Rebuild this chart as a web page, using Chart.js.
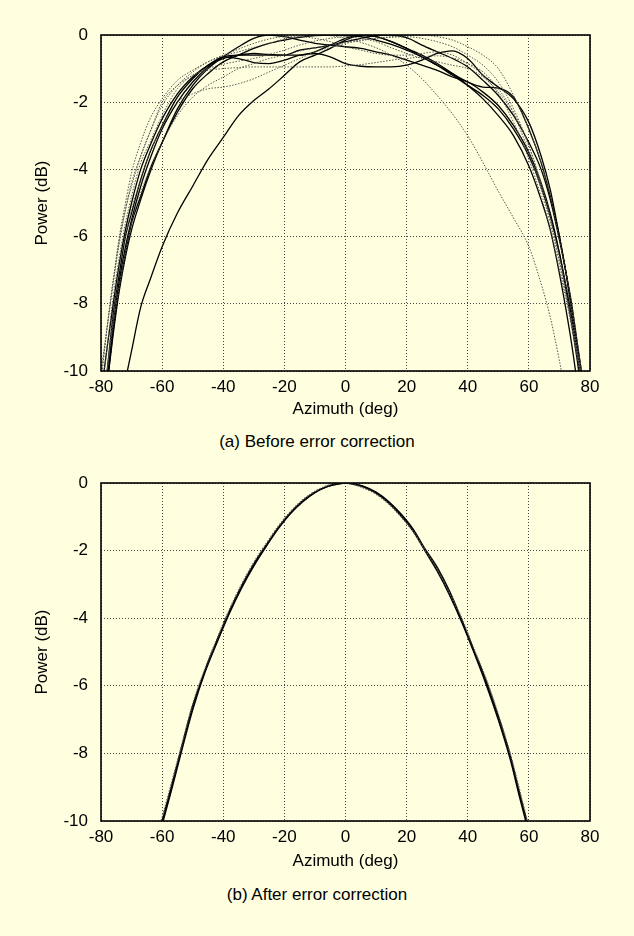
<!DOCTYPE html>
<html>
<head>
<meta charset="utf-8">
<script src="https://cdn.jsdelivr.net/npm/chart.js@4.4.1/dist/chart.umd.min.js"></script>
<style>
  html, body { margin:0; padding:0; background:#ffffe0; }
  body { width:634px; height:936px; position:relative; overflow:hidden; font-family:"Liberation Sans", Arial, sans-serif; }
  .box { position:absolute; left:0; width:634px; }
  .cap { position:absolute; left:0; width:634px; text-align:center; font-size:17px; line-height:20px; color:#000; }
</style>
</head>
<body>
<div class="box" style="top:0;height:420px"><canvas id="chartA"></canvas></div>
<div class="cap" style="top:432px">(a) Before error correction</div>
<div class="box" style="top:450px;height:422px"><canvas id="chartB"></canvas></div>
<div class="cap" style="top:885px">(b) After error correction</div>
<script>
// ---- data ----
const xTicks = [-80,-60,-40,-20,0,20,40,60,80];
const yTicks = [0,-2,-4,-6,-8,-10];

const azimuthA = [-80,-78,-76,-74,-72,-70,-67,-64,-60,-55,-50,-45,-40,-35,-30,-25,-20,-15,-10,-5,0,5,10,15,20,25,30,35,40,45,50,55,60,64,67,70,72,74,76,78,80];

// solid curves (before correction)
const solid1 = [-15,-14,-12.8,-11.5,-10.3,-9.4,-8.1,-7.3,-6.3,-5.3,-4.5,-3.7,-3.05,-2.4,-1.95,-1.6,-1.2,-0.8,-0.6,-0.4,-0.15,-0.02,-0.05,-0.2,-0.4,-0.6,-0.85,-1.15,-1.5,-1.9,-2.4,-3.0,-3.9,-4.9,-5.8,-7.1,-8.1,-9.2,-10.5,-12,-13.5];
const solid2 = [-12,-10.4,-8.8,-7.5,-6.5,-5.6,-4.8,-4.0,-3.2,-2.2,-1.5,-1.0,-0.65,-0.35,-0.1,0,-0.05,-0.15,-0.25,-0.3,-0.35,-0.4,-0.5,-0.6,-0.75,-0.9,-1.05,-1.25,-1.4,-1.7,-2.1,-2.7,-3.5,-4.4,-5.3,-6.5,-7.5,-8.6,-9.8,-11.2,-12.5];
const solid3 = [-11.5,-10,-8.3,-7.1,-6.0,-5.3,-4.3,-3.5,-2.7,-1.85,-1.3,-0.9,-0.65,-0.6,-0.6,-0.6,-0.6,-0.6,-0.5,-0.3,-0.1,0,-0.05,-0.2,-0.4,-0.65,-0.9,-1.2,-1.5,-1.8,-2.2,-2.8,-3.6,-4.5,-5.4,-6.5,-7.4,-8.4,-9.6,-11,-12.5];
const solid4 = [-11.8,-10.3,-8.6,-7.3,-6.3,-5.5,-4.5,-3.7,-2.8,-2.0,-1.4,-0.95,-0.65,-0.7,-0.82,-0.85,-0.75,-0.6,-0.55,-0.65,-0.85,-0.93,-0.95,-0.95,-0.9,-0.75,-0.55,-0.47,-0.7,-1.2,-1.55,-1.9,-2.6,-3.6,-4.6,-6.0,-7.0,-8.0,-9.3,-10.6,-12];
const solid5 = [-12,-10.4,-8.9,-7.6,-6.6,-5.8,-4.9,-4.1,-3.2,-2.3,-1.6,-1.15,-0.8,-0.6,-0.4,-0.25,-0.15,-0.07,-0.02,0,-0.02,-0.05,-0.15,-0.28,-0.45,-0.65,-0.9,-1.15,-1.4,-1.55,-1.58,-1.85,-2.8,-3.8,-4.8,-6.0,-7.0,-8.2,-9.5,-11,-12.5];
const solid6 = [-10.7,-9.3,-8.0,-6.8,-5.8,-5.0,-4.0,-3.3,-2.5,-1.75,-1.25,-0.9,-0.7,-0.6,-0.55,-0.58,-0.6,-0.45,-0.38,-0.3,-0.2,-0.1,-0.02,0,-0.08,-0.3,-0.5,-0.7,-0.95,-1.35,-1.8,-2.4,-3.2,-4.0,-4.9,-6.1,-7.0,-8.1,-9.3,-10.5,-12];

// dotted curves (before correction)
const dotted1 = [-10.3,-8.7,-7.3,-6.0,-5.0,-4.1,-3.2,-2.5,-1.9,-1.35,-1.05,-0.8,-0.62,-0.5,-0.37,-0.25,-0.12,-0.05,0,-0.02,-0.1,-0.22,-0.38,-0.6,-0.9,-1.3,-1.8,-2.35,-3.0,-3.8,-4.65,-5.45,-6.3,-7.4,-8.4,-9.7,-10.7,-11.7,-12.7,-13.7,-14.7];
const dotted2 = [-11.5,-10,-8.3,-6.9,-6,-5.2,-4.3,-3.5,-2.7,-2.0,-1.75,-1.6,-1.55,-1.45,-1.3,-1.1,-0.9,-0.7,-0.5,-0.37,-0.25,-0.17,-0.1,-0.07,-0.05,-0.1,-0.2,-0.35,-0.6,-0.9,-1.4,-2.2,-3.3,-4.5,-5.5,-6.6,-7.4,-8.2,-9.5,-10.7,-12];
const dotted3 = [-10,-8.7,-7.4,-6.1,-5.2,-4.4,-3.6,-2.9,-2.0,-1.5,-1.2,-1.05,-1.0,-0.97,-0.95,-0.95,-0.95,-0.95,-0.95,-0.95,-0.92,-0.88,-0.82,-0.75,-0.7,-0.65,-0.62,-0.68,-0.85,-1.1,-1.6,-2.3,-3.3,-4.4,-5.4,-6.7,-7.6,-8.5,-9.5,-10.5,-11.5];
const dotted4 = [-12,-10,-8.6,-7.5,-6.5,-5.6,-4.7,-4.0,-3.2,-2.4,-1.85,-1.5,-1.25,-1.0,-0.85,-0.7,-0.6,-0.48,-0.38,-0.3,-0.22,-0.15,-0.1,-0.05,-0.02,0,-0.05,-0.15,-0.35,-0.6,-1.0,-1.8,-2.8,-3.8,-4.8,-6.1,-7.0,-8.0,-9.2,-10.5,-12];
const dotted5 = [-10.8,-9.3,-7.8,-6.6,-5.6,-4.8,-3.8,-3.2,-2.4,-1.6,-1.2,-1.0,-0.87,-0.78,-0.7,-0.58,-0.45,-0.3,-0.18,-0.1,-0.05,-0.1,-0.2,-0.38,-0.55,-0.7,-0.8,-0.9,-1.0,-1.25,-1.7,-2.35,-3.5,-4.6,-5.6,-6.8,-7.7,-8.6,-9.6,-10.5,-11.5];
const dotted6 = [-10.3,-8.7,-7.3,-6.2,-5.2,-4.5,-3.6,-2.9,-2.1,-1.5,-1.1,-0.8,-0.6,-0.42,-0.25,-0.12,-0.05,-0.05,-0.1,-0.2,-0.35,-0.45,-0.55,-0.6,-0.6,-0.55,-0.5,-0.6,-0.85,-1.2,-1.75,-2.6,-3.7,-4.8,-5.8,-7.0,-7.8,-8.7,-9.7,-10.8,-12];

// after correction
const azimuthB = [-62,-60,-57,-54,-50,-46,-42,-38,-34,-30,-26,-22,-18,-14,-10,-6,-2,0,2,6,10,14,18,22,26,30,34,38,42,46,50,54,57,60,62];
const after1 = [-10.6,-10.0,-9.0,-7.95,-6.6,-5.55,-4.65,-3.8,-3.05,-2.4,-1.85,-1.32,-0.88,-0.53,-0.27,-0.1,-0.01,0,-0.01,-0.1,-0.27,-0.54,-0.9,-1.35,-1.95,-2.5,-3.2,-4.05,-4.95,-5.85,-6.9,-8.1,-9.2,-10.25,-11];
const after2 = [-10.8,-10.1,-9.1,-8.05,-6.7,-5.6,-4.7,-3.85,-3.1,-2.45,-1.88,-1.35,-0.9,-0.55,-0.28,-0.1,-0.02,0,-0.02,-0.12,-0.3,-0.58,-0.95,-1.4,-2.0,-2.6,-3.3,-4.1,-5.0,-5.95,-7.0,-8.2,-9.3,-10.35,-11.1];
const after3 = [-10.5,-9.9,-8.9,-7.9,-6.55,-5.5,-4.6,-3.75,-3.0,-2.35,-1.8,-1.28,-0.85,-0.5,-0.25,-0.08,0,0,-0.03,-0.15,-0.33,-0.6,-0.98,-1.42,-1.98,-2.55,-3.25,-4.0,-4.9,-5.8,-6.85,-8.05,-9.1,-10.2,-10.9];

// ---- helpers ----
const FONT = "'Liberation Sans', Arial, sans-serif";
const pts = (xs, ys)=> xs.map((x,i)=>({x, y: ys[i]}));

function solidSet(xs, ys){
  return { data: pts(xs, ys), borderColor:'#000', borderWidth:1.3, pointRadius:0, cubicInterpolationMode:'monotone', fill:false };
}
function dottedSet(xs, ys){
  return { data: pts(xs, ys), borderColor:'#555', borderWidth:1, borderDash:[1.5,1.5], pointRadius:0, cubicInterpolationMode:'monotone', fill:false };
}

const frame = {
  id:'frame',
  afterDraw(chart){
    const {ctx, chartArea:a} = chart;
    ctx.save();
    ctx.strokeStyle = '#000';
    ctx.lineWidth = 1.6;
    ctx.setLineDash([]);
    ctx.strokeRect(a.left, a.top, a.right - a.left, a.bottom - a.top);
    ctx.restore();
  }
};

function makeOptions(padTop, xAxisH){
  return {
    responsive:true, maintainAspectRatio:false, animation:false,
    layout:{ padding:{ left:0, right:44, top:padTop, bottom:0 } },
    plugins:{ legend:{display:false}, tooltip:{enabled:false} },
    scales:{
      x:{
        type:'linear', min:-80, max:80,
        afterBuildTicks: s=>{ s.ticks = xTicks.map(v=>({value:v})); },
        afterFit: s=>{ s.height = xAxisH; },
        grid:{ color:'#444', lineWidth:1, drawTicks:false },
        border:{ display:false, dash:[1,2] },
        ticks:{ color:'#000', padding:6, font:{ family:FONT, size:17 }, maxRotation:0 },
        title:{ display:true, text:'Azimuth (deg)', color:'#000', padding:{top:0,bottom:0}, font:{ family:FONT, size:17, lineHeight:1.2 } }
      },
      y:{
        type:'linear', min:-10, max:0,
        afterBuildTicks: s=>{ s.ticks = yTicks.map(v=>({value:v})); },
        afterFit: s=>{ s.width = 101; },
        grid:{ color:'#444', lineWidth:1, drawTicks:false },
        border:{ display:false, dash:[1,2] },
        ticks:{ color:'#000', padding:13, font:{ family:FONT, size:17 } },
        title:{ display:true, text:'Power (dB)', color:'#000', padding:{top:32,bottom:0}, font:{ family:FONT, size:17, lineHeight:1.2 } }
      }
    }
  };
}

new Chart(document.getElementById('chartA'), {
  type:'line',
  data:{ datasets:[
    dottedSet(azimuthA, dotted1), dottedSet(azimuthA, dotted2), dottedSet(azimuthA, dotted3),
    dottedSet(azimuthA, dotted4), dottedSet(azimuthA, dotted5), dottedSet(azimuthA, dotted6),
    solidSet(azimuthA, solid1), solidSet(azimuthA, solid2), solidSet(azimuthA, solid3),
    solidSet(azimuthA, solid4), solidSet(azimuthA, solid5), solidSet(azimuthA, solid6)
  ]},
  options: makeOptions(35, 49),
  plugins:[frame]
});

new Chart(document.getElementById('chartB'), {
  type:'line',
  data:{ datasets:[
    Object.assign(dottedSet(azimuthB, after3), {borderWidth:1.4}),
    Object.assign(solidSet(azimuthB, after1), {borderWidth:1.6}),
    Object.assign(solidSet(azimuthB, after2), {borderWidth:1.6})
  ]},
  options: makeOptions(33, 51),
  plugins:[frame]
});
</script>
</body>
</html>
